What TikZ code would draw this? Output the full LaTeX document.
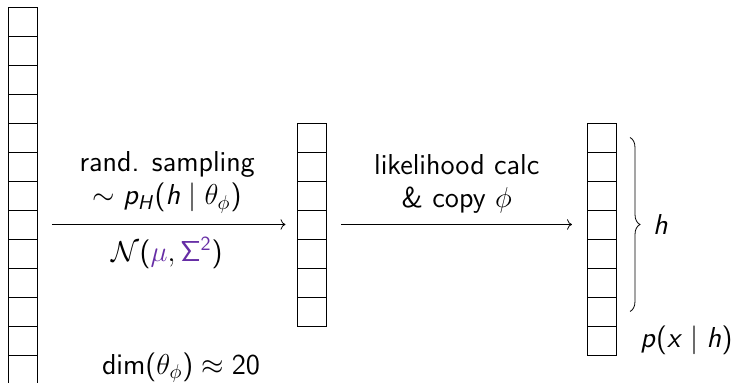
\RequirePackage{fix-cm}
\documentclass[tikz,border=0pt]{standalone}
\usepackage{tikz}
\usetikzlibrary{arrows.meta, positioning, decorations.pathreplacing}
\usepackage{xcolor}

% beamer-like sans math
\DeclareSymbolFont{sfletters}{OT1}{cmss}{m}{sl}
\SetSymbolFont{operators}{normal}{OT1}{cmss}{m}{n}
\DeclareMathSymbol{p}{\mathalpha}{sfletters}{`p}
\DeclareMathSymbol{h}{\mathalpha}{sfletters}{`h}
\DeclareMathSymbol{x}{\mathalpha}{sfletters}{`x}
\DeclareMathSymbol{H}{\mathalpha}{sfletters}{`H}
\definecolor{paramcol}{RGB}{102,45,165}

\begin{document}
\begin{tikzpicture}[
      x=0.5pt, y=0.5pt,
      font=\fontsize{14.4}{16.5}\selectfont\sffamily,
      cell/.style={draw, minimum width=14.5pt, minimum height=14.5pt, inner sep=0pt, outer sep=0pt},
      lbl/.style={align=center},
      brc/.style={decorate, decoration={brace, amplitude=5pt}}
    ]
    \useasboundingbox (0,0) rectangle (736,383);

    % parameter vector theta
    \foreach \i in {1,...,13}
      \node[cell] (t\i) at (22.5, 361.5-29*\i+29) {};
    % sampled h
    \foreach \i in {1,...,7}
      \node[cell] (h\i) at (312, 245.5-29*\i+29) {};
    % h with copied phi
    \foreach \i in {1,...,8}
      \node[cell] (x\i) at (601.5, 245.5-29*\i+29) {};

    \draw[->, shorten <=7.5pt, shorten >=6pt] (t1.east |- h4.west) --
      node[lbl, above=2.2pt] (samp) {rand. sampling\\$\sim p_H(h \mid \theta_\phi)$}
      node[lbl, below=3pt] (dist) {$\mathcal{N}(\textcolor{paramcol}{\mu}, \textcolor{paramcol}{\Sigma^2})$}
      (h4.west);
    \draw[->, shorten <=7.5pt, shorten >=7.5pt] (h4.east) --
      node[lbl, above=2.2pt] (lik) {likelihood calc\\\& copy $\phi$}
      (x4.west);

    \draw[brc] ([xshift=7pt]x1.east) -- node[right=8pt] (hlbl) {$h$} ([xshift=7pt]x7.east);
    \node[right=8.7pt of x8] (plbl) {$p(x \mid h)$};

    \node (dim) at (181,15) {$\dim(\theta_\phi) \approx 20$};
  \end{tikzpicture}
\end{document}
